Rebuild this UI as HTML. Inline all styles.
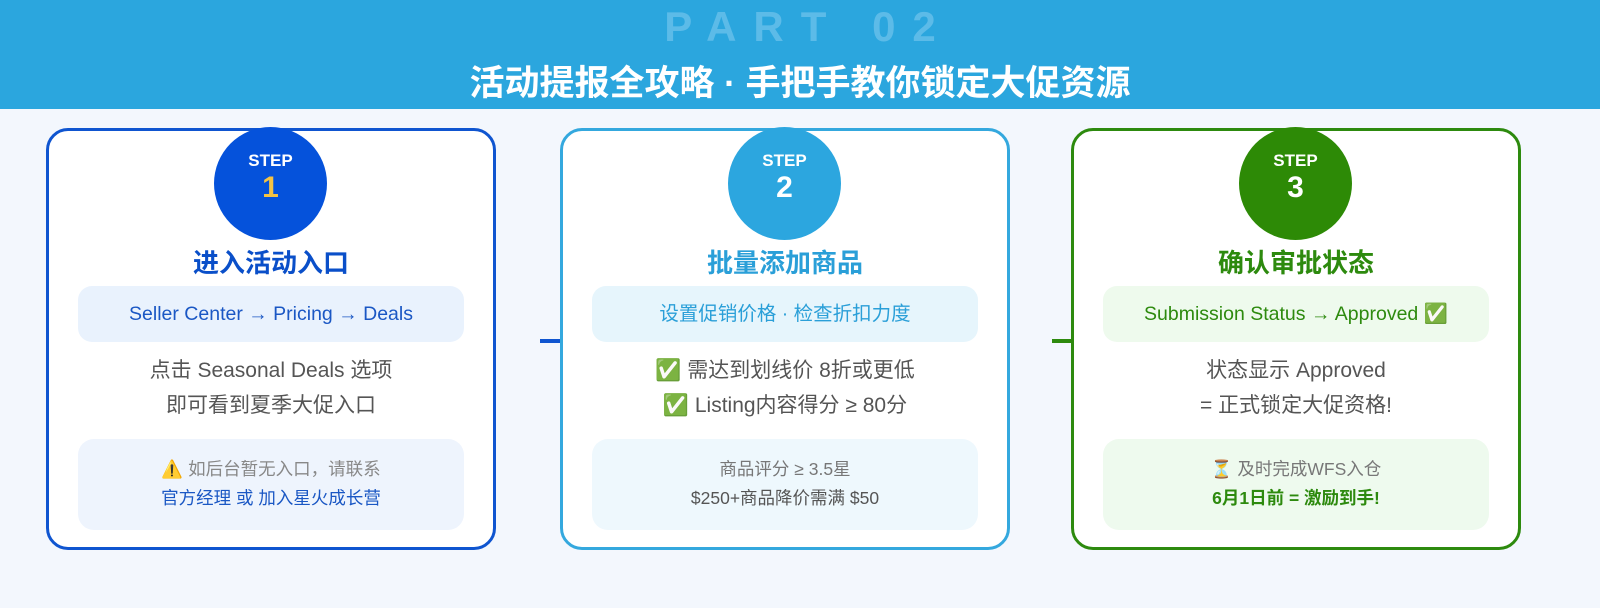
<!DOCTYPE html>
<html><head><meta charset="utf-8"><style>
*{margin:0;padding:0;box-sizing:border-box}
body{width:1600px;height:608px;background:#f3f7fd;font-family:"Liberation Sans","Noto Sans CJK SC",sans-serif;position:relative;overflow:hidden}
.hdr{position:absolute;left:0;top:0;width:1600px;height:109px;background:#2ba6de}
.part{position:absolute;top:3px;left:0;width:1600px;text-align:center;font-size:42px;font-weight:bold;letter-spacing:17px;color:#5cbbe8;padding-left:17px}
.title{position:absolute;top:55px;left:0;width:1600px;text-align:center;font-size:35px;font-weight:bold;color:#fff}
.card{position:absolute;top:128px;width:450px;height:422px;border:3px solid;border-radius:22px;background:#fff}
.circ{position:absolute;top:-4px;left:165px;width:113px;height:113px;border-radius:50%;color:#fff;text-align:center;font-weight:bold}
.circ .s{font-size:17px;margin-top:24px;line-height:20px}
.circ .n{font-size:30px;line-height:34px}
.h{position:absolute;top:112px;width:100%;text-align:center;font-size:26px;font-weight:bold}
.pill{position:absolute;left:29px;top:155px;width:386px;height:56px;border-radius:14px;text-align:center;line-height:56px;font-size:19.5px}
.body{position:absolute;top:222px;width:100%;text-align:center;font-size:21px;line-height:35px;color:#555}
.box{position:absolute;left:29px;top:308px;width:386px;height:91px;border-radius:16px;text-align:center;font-size:17.5px;line-height:29px;padding-top:16px}
.conn{position:absolute;top:339px;width:21px;height:4px}
</style></head><body>
<div class="hdr"><div class="part">PART 02</div><div class="title">活动提报全攻略 · 手把手教你锁定大促资源</div></div>

<div class="card" style="left:46px;border-color:#0f55d0">
 <div class="circ" style="background:#0552db"><div class="s">STEP</div><div class="n" style="color:#f5c343">1</div></div>
 <div class="h" style="color:#0a4fc9">进入活动入口</div>
 <div class="pill" style="background:#e9f2fd;color:#1a57c4">Seller Center → Pricing → Deals</div>
 <div class="body">点击 Seasonal Deals 选项<br>即可看到夏季大促入口</div>
 <div class="box" style="background:#eef4fd"><span style="color:#888">⚠️ 如后台暂无入口，请联系</span><br><span style="color:#1a57c4">官方经理 或 加入星火成长营</span></div>
</div>

<div class="conn" style="left:540px;background:#0f55d0"></div>

<div class="card" style="left:560px;border-color:#34a8de">
 <div class="circ" style="background:#2ca6df"><div class="s">STEP</div><div class="n">2</div></div>
 <div class="h" style="color:#2a9fd8">批量添加商品</div>
 <div class="pill" style="background:#e6f5fc;color:#2a9fd8">设置促销价格 · 检查折扣力度</div>
 <div class="body">✅ 需达到划线价 8折或更低<br>✅ Listing内容得分 ≥ 80分</div>
 <div class="box" style="background:#eef8fd"><span style="color:#777">商品评分 ≥ 3.5星</span><br><span style="color:#555">$250+商品降价需满 $50</span></div>
</div>

<div class="conn" style="left:1052px;background:#2d8a0e"></div>

<div class="card" style="left:1071px;border-color:#2d8a0e">
 <div class="circ" style="background:#2d8a06"><div class="s">STEP</div><div class="n">3</div></div>
 <div class="h" style="color:#2d8a0e">确认审批状态</div>
 <div class="pill" style="background:#eefaed;color:#2d8a0e">Submission Status → Approved ✅</div>
 <div class="body">状态显示 Approved<br>= 正式锁定大促资格!</div>
 <div class="box" style="background:#eefaee"><span style="color:#777">⏳ 及时完成WFS入仓</span><br><span style="color:#2d8a0e;font-weight:bold">6月1日前 = 激励到手!</span></div>
</div>
</body></html>
